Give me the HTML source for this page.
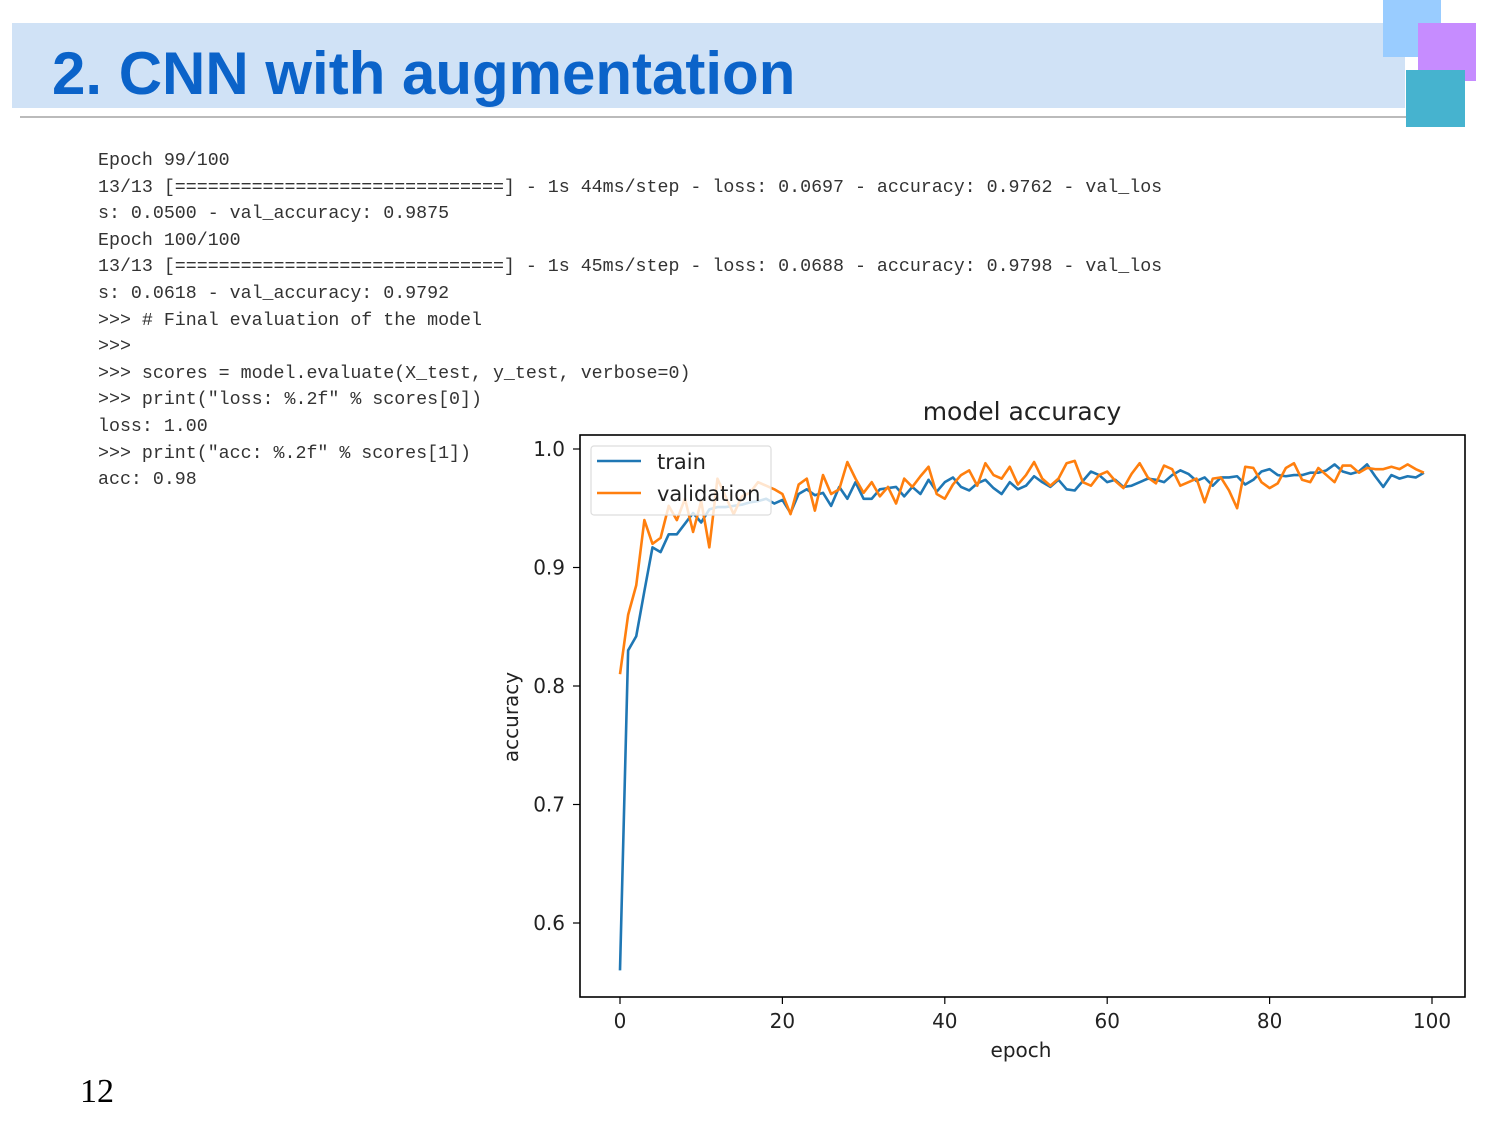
<!DOCTYPE html>
<html><head><meta charset="utf-8"><style>
body{margin:0;width:1500px;height:1125px;background:#fff;position:relative;overflow:hidden;font-family:"Liberation Sans",sans-serif}
.abs{position:absolute}
#console{left:98px;top:148px;font-family:"Liberation Mono",monospace;font-size:18.3px;line-height:26.6px;color:#333;white-space:pre;margin:0}
</style></head><body>
<div class="abs" style="left:12px;top:23px;width:1393px;height:85px;background:#d0e2f6"></div>
<div class="abs" style="left:52px;top:44px;font-size:60px;line-height:1;font-weight:bold;color:#0b63c9;font-family:'Liberation Sans',sans-serif">2. CNN with augmentation</div>
<div class="abs" style="left:20px;top:116px;width:1390px;height:2px;background:#bbb"></div>
<div class="abs" style="left:1383px;top:0;width:58px;height:57px;background:#99ccff"></div>
<div class="abs" style="left:1418px;top:23px;width:58px;height:58px;background:#c68cff"></div>
<div class="abs" style="left:1406px;top:70px;width:59px;height:57px;background:#46b3cf"></div>
<pre class="abs" id="console">Epoch 99/100
13/13 [==============================] - 1s 44ms/step - loss: 0.0697 - accuracy: 0.9762 - val_los
s: 0.0500 - val_accuracy: 0.9875
Epoch 100/100
13/13 [==============================] - 1s 45ms/step - loss: 0.0688 - accuracy: 0.9798 - val_los
s: 0.0618 - val_accuracy: 0.9792
&gt;&gt;&gt; # Final evaluation of the model
&gt;&gt;&gt;
&gt;&gt;&gt; scores = model.evaluate(X_test, y_test, verbose=0)
&gt;&gt;&gt; print("loss: %.2f" % scores[0])
loss: 1.00
&gt;&gt;&gt; print("acc: %.2f" % scores[1])
acc: 0.98</pre>
<div class="abs" style="left:80px;top:1073px;font-family:'Liberation Serif',serif;font-size:34px;color:#000">12</div>
<svg class="abs" style="left:0;top:0" width="1500" height="1125">
<g id="chart"></g>
</svg>
<script>
const train=[0.56,0.83,0.842,0.88,0.917,0.913,0.928,0.928,0.937,0.946,0.938,0.949,0.951,0.951,0.952,0.953,0.955,0.956,0.958,0.954,0.957,0.946,0.962,0.966,0.961,0.963,0.952,0.968,0.958,0.972,0.958,0.958,0.966,0.967,0.968,0.960,0.968,0.962,0.974,0.964,0.972,0.976,0.968,0.965,0.971,0.974,0.967,0.962,0.972,0.966,0.969,0.977,0.972,0.968,0.974,0.966,0.965,0.973,0.981,0.978,0.972,0.974,0.968,0.969,0.972,0.975,0.974,0.972,0.978,0.982,0.979,0.973,0.976,0.969,0.976,0.976,0.977,0.970,0.974,0.981,0.983,0.978,0.977,0.978,0.978,0.980,0.980,0.982,0.987,0.981,0.979,0.981,0.987,0.977,0.968,0.978,0.975,0.977,0.976,0.980];
const validation=[0.81,0.86,0.885,0.94,0.92,0.925,0.952,0.94,0.958,0.93,0.956,0.917,0.975,0.96,0.945,0.96,0.963,0.972,0.969,0.966,0.962,0.945,0.97,0.975,0.948,0.978,0.962,0.966,0.989,0.975,0.963,0.972,0.96,0.968,0.954,0.975,0.968,0.977,0.985,0.962,0.958,0.970,0.978,0.982,0.969,0.988,0.978,0.975,0.985,0.970,0.978,0.989,0.975,0.969,0.975,0.988,0.990,0.972,0.969,0.978,0.981,0.973,0.967,0.979,0.988,0.976,0.971,0.986,0.983,0.969,0.972,0.975,0.955,0.975,0.976,0.965,0.950,0.985,0.984,0.972,0.967,0.971,0.984,0.988,0.974,0.972,0.984,0.978,0.972,0.986,0.986,0.980,0.984,0.983,0.983,0.985,0.983,0.987,0.983,0.980];
const xTicks=[0,20,40,60,80,100];
const yTicks=[0.6,0.7,0.8,0.9,1.0];
const NS='http://www.w3.org/2000/svg';
const g=document.getElementById('chart');
const X=v=>620+v*8.12;
const Y=v=>449+(1-v)*1185;
function mk(t,a,txt){const e=document.createElementNS(NS,t);for(const k in a)e.setAttribute(k,a[k]);if(txt!==undefined)e.textContent=txt;g.appendChild(e);return e;}
let e=mk('rect',{x:580,y:435,width:885,height:562,fill:'none',stroke:'#000','stroke-width':1.6});


xTicks.forEach(t=>{
 let l=mk('line',{x1:X(t),x2:X(t),y1:997,y2:1004,stroke:'#000','stroke-width':1.2});
 
 
 let s=mk('text',{x:X(t),y:1028,'text-anchor':'middle','font-size':20,fill:'#222','font-family':'DejaVu Sans,Liberation Sans,sans-serif'},String(t));
 
 
});
yTicks.forEach(t=>{
 let l=mk('line',{x1:573,x2:580,y1:Y(t),y2:Y(t),stroke:'#000','stroke-width':1.2});
 
 
 let s=mk('text',{x:565,y:Y(t)+7,'text-anchor':'end','font-size':20,fill:'#222','font-family':'DejaVu Sans,Liberation Sans,sans-serif'},t.toFixed(1));
 
 
});
function line(arr,col,name){
 const p=mk('polyline',{points:arr.map((v,i)=>X(i)+','+Y(v)).join(' '),fill:'none',stroke:col,'stroke-width':2.6,'stroke-linejoin':'round'});
 
 
}
line(train,'#1f77b4','train-line');
line(validation,'#ff7f0e','validation-line');
e=mk('rect',{x:591,y:446,width:180,height:69,fill:'#fff','fill-opacity':0.8,stroke:'#ddd','stroke-width':1.2,rx:3});


mk('line',{x1:597,x2:641,y1:461,y2:461,stroke:'#1f77b4','stroke-width':2.6});
e=mk('text',{x:657,y:469,'font-size':21,fill:'#222','font-family':'DejaVu Sans,Liberation Sans,sans-serif'},'train');


mk('line',{x1:597,x2:641,y1:493,y2:493,stroke:'#ff7f0e','stroke-width':2.6});
e=mk('text',{x:657,y:501,'font-size':21,fill:'#222','font-family':'DejaVu Sans,Liberation Sans,sans-serif'},'validation');


e=mk('text',{x:1022,y:420,'text-anchor':'middle','font-size':25,fill:'#222','font-family':'DejaVu Sans,Liberation Sans,sans-serif'},'model accuracy');


e=mk('text',{x:1021,y:1057,'text-anchor':'middle','font-size':20,fill:'#222','font-family':'DejaVu Sans,Liberation Sans,sans-serif'},'epoch');


e=mk('text',{x:0,y:0,'text-anchor':'middle','font-size':20,fill:'#222','font-family':'DejaVu Sans,Liberation Sans,sans-serif',transform:'translate(518,717) rotate(-90)'},'accuracy');


</script>
</body></html>
